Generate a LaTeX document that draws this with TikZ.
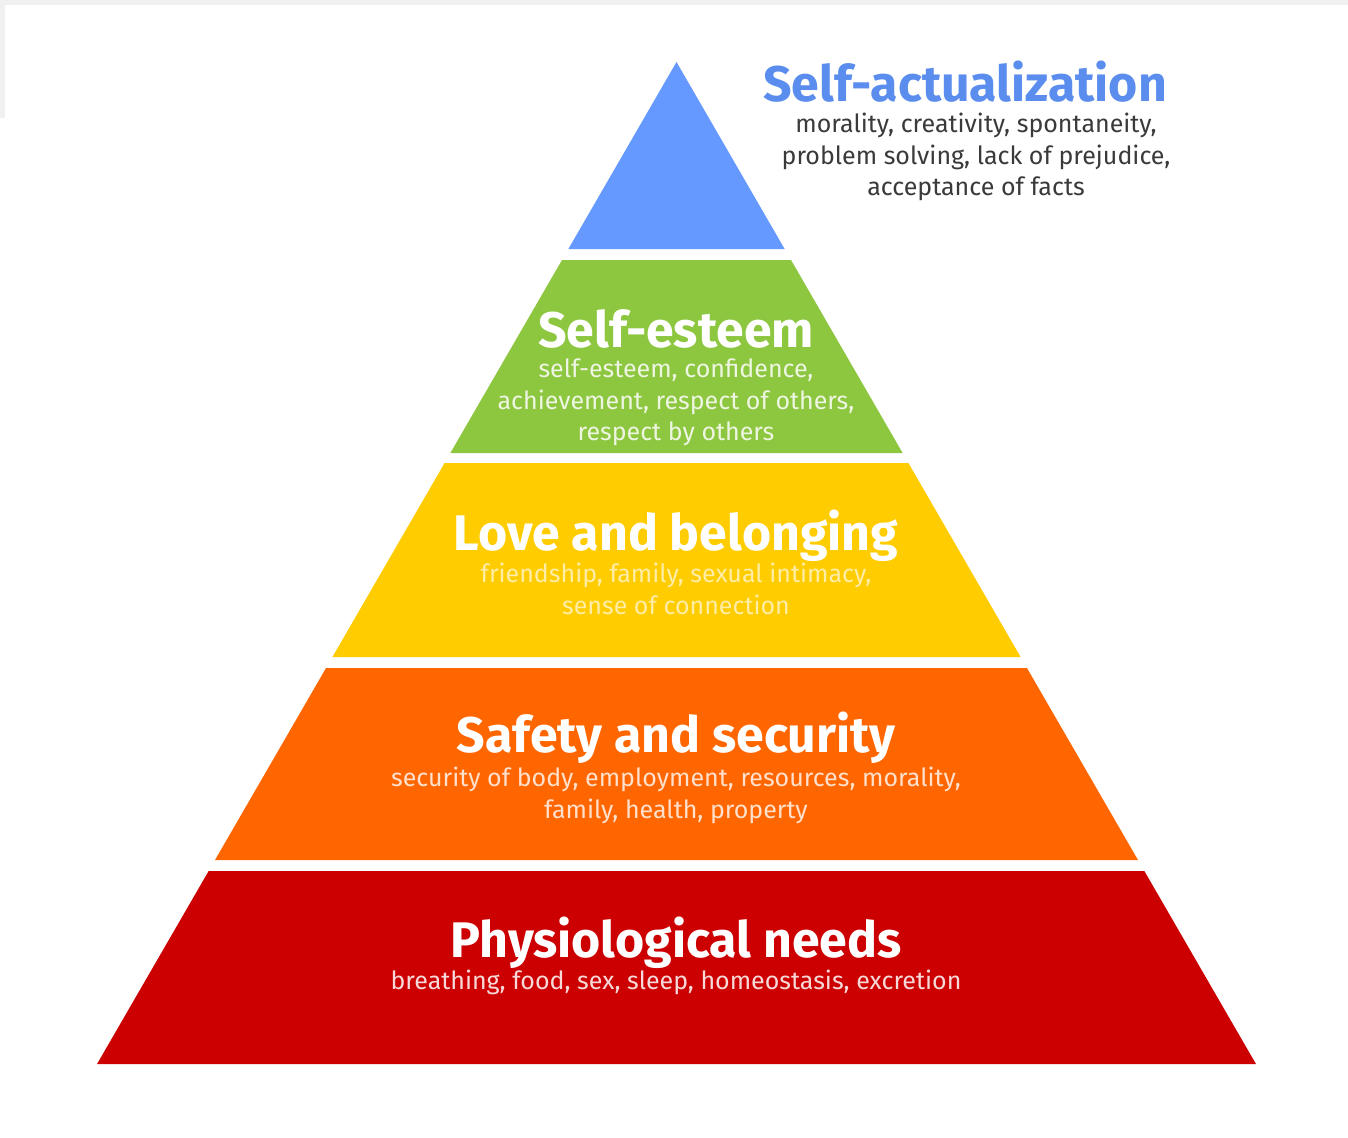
\documentclass[tikz,border=0pt]{standalone}
\usepackage{fontspec}
\setmainfont{Fira Sans}
\usepackage{tikz}
\usetikzlibrary{positioning}

\definecolor{actblue}{HTML}{6699FF}
\definecolor{acttext}{HTML}{5B8DEE}
\definecolor{esteemgreen}{HTML}{8DC63F}
\definecolor{lovegold}{HTML}{FFCC00}
\definecolor{safeorange}{HTML}{FF6600}
\definecolor{physred}{HTML}{CC0000}
\definecolor{notegray}{HTML}{3A3A3A}
\definecolor{framegray}{HTML}{F0F0F0}

\tikzset{
  heading/.style={font=\bfseries\fontsize{50}{52}\selectfont, text=white, inner sep=0pt, text depth=0pt, anchor=base},
  needs/.style={font=\fontsize{25}{31.5}\selectfont, align=center, inner sep=0pt, anchor=north},
}

\begin{document}
\begin{tikzpicture}[x=1pt, y=-1pt]
    \useasboundingbox (0,0) rectangle (1348,1137);
    \fill[white] (0,0) rectangle (1348,1137);
    % screenshot frame
    \fill[framegray] (0,0) rectangle (1348,5);
    \fill[framegray] (0,0) rectangle (5,118);

    % pyramid: apex at (676.5,62), base from 97 to 1256 at y=1064
    \fill[actblue] (676.5,62) -- ({676.5+0.5783*187},249) -- ({676.5-0.5783*187},249) -- cycle;
    \foreach \top/\bot/\col in {260/453/esteemgreen, 463/657/lovegold, 668/860/safeorange, 871/1064/physred}
      \fill[\col] ({676.5-0.5783*(\top-62)},\top) -- ({676.5+0.5783*(\top-62)},\top)
        -- ({676.5+0.5783*(\bot-62)},\bot) -- ({676.5-0.5783*(\bot-62)},\bot) -- cycle;

    % labels
    \node[heading, text=acttext] (actualization) at (965,102) {Self-actualization};
    \node[needs, text=notegray] (actualizationnote) at (976,113) {morality, creativity, spontaneity,\\problem solving, lack of prejudice,\\acceptance of facts};

    \node[heading] (esteem) at (676,347) {Self-esteem};
    \node[needs, text=white!85!esteemgreen] (esteemnote) at (676,359) {self-esteem, confidence,\\achievement, respect of others,\\respect by others};

    \node[heading] (love) at (676,550) {Love and belonging};
    \node[needs, text=white!65!lovegold] (lovenote) at (676,563) {friendship, family, sexual intimacy,\\sense of connection};

    \node[heading] (safety) at (676,752) {Safety and security};
    \node[needs, text=white!80!safeorange] (safetynote) at (676,767) {security of body, employment, resources, morality,\\family, health, property};

    \node[heading] (physio) at (676,957) {Physiological needs};
    \node[needs, text=white!85!physred] (physionote) at (676,970) {breathing, food, sex, sleep, homeostasis, excretion};
\end{tikzpicture}
\end{document}
